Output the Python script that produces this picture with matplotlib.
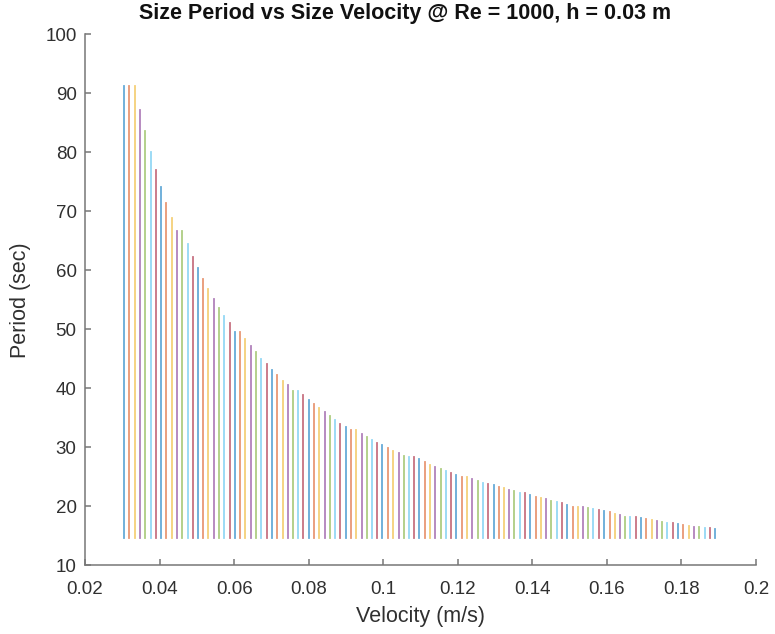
import matplotlib
matplotlib.use("Agg")
import matplotlib.pyplot as plt

# velocity (m/s) of each run
velocity = [
    0.0305, 0.0319, 0.0333, 0.0347, 0.0362, 0.0376, 0.0390, 0.0404, 0.0418, 0.0432,
    0.0447, 0.0461, 0.0475, 0.0489, 0.0503, 0.0517, 0.0531, 0.0546, 0.0560, 0.0574,
    0.0588, 0.0602, 0.0616, 0.0630, 0.0645, 0.0659, 0.0673, 0.0687, 0.0701, 0.0715,
    0.0730, 0.0744, 0.0758, 0.0772, 0.0786, 0.0800, 0.0814, 0.0829, 0.0843, 0.0857,
    0.0871, 0.0885, 0.0899, 0.0913, 0.0928, 0.0942, 0.0956, 0.0970, 0.0984, 0.0998,
    0.1013, 0.1027, 0.1041, 0.1055, 0.1069, 0.1083, 0.1097, 0.1112, 0.1126, 0.1140,
    0.1154, 0.1168, 0.1182, 0.1196, 0.1211, 0.1225, 0.1239, 0.1253, 0.1267, 0.1281,
    0.1296, 0.1310, 0.1324, 0.1338, 0.1352, 0.1366, 0.1380, 0.1395, 0.1409, 0.1423,
    0.1437, 0.1451, 0.1465, 0.1479, 0.1494, 0.1508, 0.1522, 0.1536, 0.1550, 0.1564,
    0.1579, 0.1593, 0.1607, 0.1621, 0.1635, 0.1649, 0.1663, 0.1678, 0.1692, 0.1706,
    0.1720, 0.1734, 0.1748, 0.1762, 0.1777, 0.1791, 0.1805, 0.1819, 0.1833, 0.1847,
    0.1862, 0.1876, 0.1890,
]

# period (sec), top of each line
period = [
    91.3, 91.3, 91.3, 87.2, 83.7, 80.15, 77.0, 74.1, 71.4, 68.85,
    66.6, 66.6, 64.5, 62.25, 60.4, 58.6, 56.8, 55.2, 53.7, 52.3,
    51.0, 49.6, 49.6, 48.4, 47.25, 46.2, 45.0, 44.1, 43.1, 42.2,
    41.3, 40.5, 39.6, 39.6, 38.8, 38.1, 37.4, 36.7, 36.0, 35.3,
    34.6, 34.0, 33.5, 32.9, 32.9, 32.3, 31.8, 31.3, 30.8, 30.35,
    29.85, 29.4, 29.0, 28.6, 28.3, 28.3, 28.0, 27.5, 27.06, 26.6,
    26.3, 25.9, 25.65, 25.26, 24.9, 24.9, 24.6, 24.3, 24.0, 23.8,
    23.55, 23.3, 23.06, 22.8, 22.55, 22.2, 22.2, 21.9, 21.6, 21.4,
    21.2, 20.95, 20.8, 20.5, 20.25, 19.95, 19.8, 19.8, 19.65, 19.5,
    19.35, 19.2, 18.95, 18.7, 18.5, 18.25, 18.25, 18.1, 17.95, 17.8,
    17.7, 17.5, 17.35, 17.2, 17.1, 17.0, 16.8, 16.7, 16.55, 16.45,
    16.4, 16.3, 16.15,
]

# lower end of every line
period_base = 14.7

x_ticks = [0.02, 0.04, 0.06, 0.08, 0.1, 0.12, 0.14, 0.16, 0.18, 0.2]
x_tick_labels = ["0.02", "0.04", "0.06", "0.08", "0.1", "0.12", "0.14", "0.16", "0.18", "0.2"]
y_ticks = [10, 20, 30, 40, 50, 60, 70, 80, 90, 100]

# matlab default color order
matlab_colors = ["#0072BD", "#D95319", "#EDB120", "#7E2F8E", "#77AC30", "#4DBEEE", "#A2142F"]

plt.rcParams["font.family"] = ["Liberation Sans", "DejaVu Sans"]

fig = plt.figure(figsize=(7.75, 6.34), dpi=100)
ax = fig.add_axes([0.1097, 0.1084, 0.8658, 0.8373])

for i, (v, p) in enumerate(zip(velocity, period)):
    ax.plot([v, v], [period_base, p], color=matlab_colors[i % 7], linewidth=1.3, alpha=0.6)

ax.set_xlim(0.02, 0.2)
ax.set_ylim(10, 100)
ax.set_xticks(x_ticks)
ax.set_xticklabels(x_tick_labels)
ax.set_yticks(y_ticks)

for side in ["top", "right"]:
    ax.spines[side].set_visible(False)
for side in ["left", "bottom"]:
    ax.spines[side].set_color("#777777")
    ax.spines[side].set_linewidth(1.1)

ax.tick_params(direction="in", length=4.5, width=1.1, color="#777777",
               labelcolor="#303030", labelsize=13.5)
ax.tick_params(axis="y", pad=6)
ax.tick_params(axis="x", pad=11)

fig.text(0.5226, 0.978, "Size Period vs Size Velocity @ Re = 1000, h = 0.03 m",
         fontsize=15.5, fontweight="bold", color="#111111", ha="center", va="center")
ax.set_xlabel("Velocity (m/s)", fontsize=15.5, color="#303030", labelpad=6)
ax.set_ylabel("Period (sec)", fontsize=15.5, color="#303030", labelpad=10)

fig.savefig("out.png", dpi=100)
plt.close(fig)
